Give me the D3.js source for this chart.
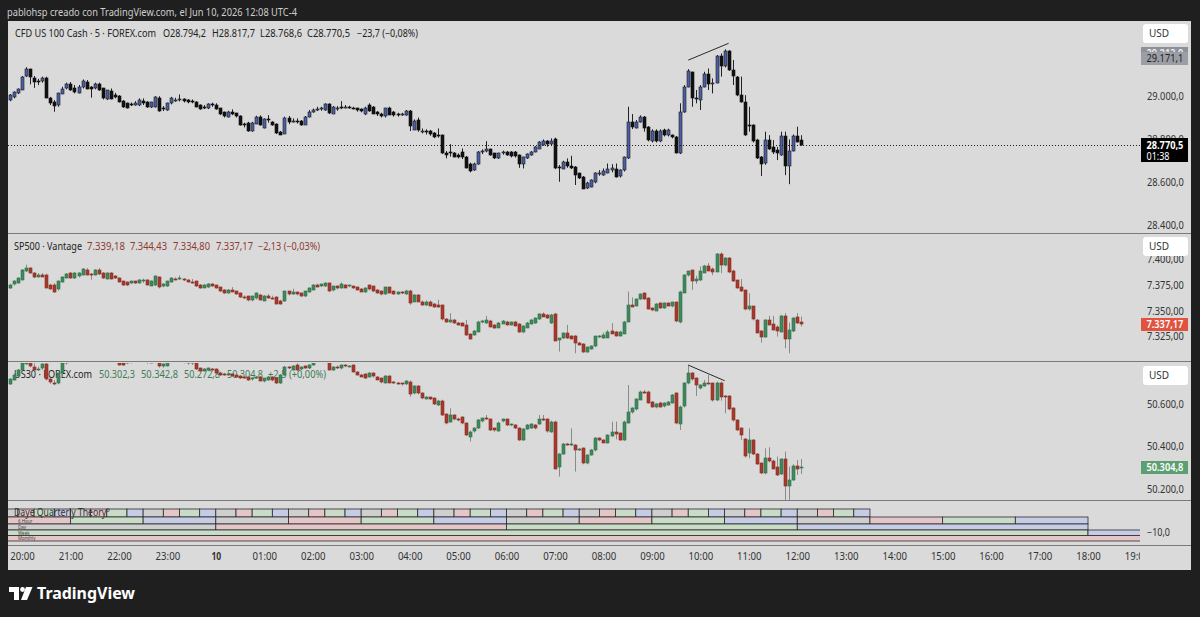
<!DOCTYPE html>
<html><head><meta charset="utf-8">
<script src="https://cdn.jsdelivr.net/npm/d3@7/dist/d3.min.js"></script>
<style>
html,body{margin:0;padding:0;background:#1f1f1f;}
svg{display:block;font-family:"Noto Sans","Open Sans",sans-serif;}
</style></head><body>
<svg id="c" width="1200" height="617"></svg>
<script>
// ---------------- DATA ----------------
const timeLabels = ["20:00","21:00","22:00","23:00","10","01:00","02:00","03:00","04:00","05:00","06:00","07:00","08:00","09:00","10:00","11:00","12:00","13:00","14:00","15:00","16:00","17:00","18:00","19:00"];

// CFD US 100 Cash, 5 min, [open, high, low, close]
const nasOHLC = [
[28981,29009,28976,29004],[28992,29021,28989,29017],[29012,29035,29009,29031],[29031,29093,29028,29090],[29090,29134,29088,29124],
[29124,29127,29054,29085],[29086,29093,29038,29069],[29071,29080,29051,29065],[29066,29090,29062,29082],[29083,29090,28989,28992],
[28992,28996,28958,28969],[28973,28981,28927,28953],[28958,29015,28950,29012],[29012,29043,29009,29034],[29035,29062,29031,29054],
[29055,29065,29024,29028],[29035,29051,29012,29017],[29017,29051,29012,29043],[29040,29077,29035,29069],[29066,29074,29031,29035],
[29043,29046,28992,29035],[29035,29062,29031,29054],[29055,29062,29024,29028],[29035,29038,28984,28989],[28986,29028,28981,29028],
[29024,29035,28984,28989],[29004,29015,28989,28993],[29001,29004,28970,28973],[28976,28981,28945,28950],[28966,28969,28942,28945],
[28961,28970,28953,28958],[28958,28976,28955,28966],[28958,28989,28953,28981],[28978,28989,28958,28969],[28973,28976,28945,28950],
[28947,28973,28944,28970],[28950,28999,28947,28996],[28993,28999,28927,28931],[28942,28953,28930,28938],[28935,28969,28931,28966],
[28966,28996,28961,28989],[28978,28992,28973,28981],[28981,29007,28975,28984],[28984,28989,28970,28976],[28981,28986,28966,28973],
[28978,28984,28966,28972],[28973,28976,28947,28950],[28958,28961,28936,28939],[28950,28958,28939,28945],[28942,28966,28939,28961],
[28961,28969,28950,28956],[28958,28966,28936,28939],[28942,28945,28911,28914],[28924,28927,28900,28904],[28904,28931,28900,28927],
[28927,28938,28911,28919],[28919,28922,28900,28904],[28907,28910,28862,28865],[28869,28876,28854,28865],[28876,28880,28834,28837],
[28837,28880,28834,28876],[28872,28908,28869,28904],[28904,28910,28862,28865],[28852,28896,28849,28893],[28893,28911,28876,28888],
[28880,28883,28862,28865],[28868,28872,28823,28826],[28834,28837,28818,28821],[28826,28904,28823,28899],[28899,28907,28869,28880],
[28883,28896,28876,28885],[28885,28896,28872,28879],[28883,28888,28862,28865],[28868,28907,28865,28904],[28904,28935,28900,28927],
[28927,28942,28922,28935],[28939,28950,28930,28941],[28941,28950,28931,28942],[28935,28966,28931,28961],[28961,28966,28916,28919],
[28919,28953,28916,28950],[28942,28953,28931,28945],[28950,28976,28939,28947],[28950,28958,28942,28951],[28950,28955,28941,28945],
[28945,28950,28938,28942],[28942,28945,28927,28935],[28938,28942,28924,28930],[28914,28950,28911,28942],[28958,28966,28927,28930],
[28950,28953,28916,28919],[28927,28930,28907,28916],[28916,28922,28900,28907],[28904,28945,28900,28942],[28945,28950,28911,28914],
[28927,28930,28904,28911],[28916,28922,28904,28910],[28914,28922,28908,28916],[28911,28935,28908,28930],[28930,28935,28837,28860],
[28845,28891,28842,28885],[28888,28900,28834,28842],[28834,28849,28826,28838],[28838,28845,28821,28832],[28835,28842,28815,28821],
[28826,28832,28804,28807],[28818,28849,28806,28814],[28818,28821,28730,28733],[28736,28744,28710,28725],[28738,28776,28718,28736],
[28736,28739,28714,28718],[28725,28733,28710,28718],[28738,28756,28707,28714],[28718,28721,28663,28668],[28683,28690,28645,28651],
[28655,28690,28652,28683],[28683,28744,28680,28738],[28741,28752,28730,28742],[28741,28790,28738,28752],[28752,28755,28722,28725],
[28733,28736,28707,28710],[28710,28736,28707,28733],[28733,28746,28727,28738],[28738,28744,28722,28725],[28738,28744,28714,28721],
[28738,28744,28714,28718],[28725,28728,28666,28683],[28683,28718,28663,28714],[28710,28733,28707,28730],[28725,28744,28722,28741],
[28741,28767,28738,28764],[28756,28790,28753,28787],[28775,28798,28769,28792],[28790,28795,28764,28776],[28776,28803,28770,28792],
[28798,28806,28660,28663],[28671,28679,28601,28666],[28663,28699,28660,28694],[28694,28710,28666,28674],[28674,28722,28660,28665],
[28671,28674,28586,28632],[28640,28643,28614,28617],[28625,28628,28567,28570],[28570,28601,28567,28594],[28578,28612,28575,28609],
[28597,28645,28594,28640],[28640,28655,28629,28643],[28632,28663,28629,28651],[28643,28686,28640,28662],[28655,28683,28645,28663],
[28662,28686,28621,28625],[28625,28659,28621,28655],[28652,28718,28649,28714],[28710,28950,28707,28877],[28877,28916,28846,28854],
[28854,28888,28849,28880],[28880,28910,28876,28904],[28904,28907,28834,28854],[28854,28860,28789,28792],[28792,28845,28784,28838],
[28838,28845,28784,28790],[28790,28845,28785,28835],[28842,28848,28812,28817],[28817,28848,28812,28842],[28817,28821,28803,28810],
[28810,28814,28733,28736],[28736,28966,28730,28927],[28927,29051,28922,29043],[29043,29125,29040,29117],[29110,29113,28950,28989],
[28992,29028,28966,28987],[28984,29051,28935,29043],[29043,29113,29040,29102],[29102,29128,29028,29055],[29059,29082,29012,29062],
[29062,29190,29059,29186],[29186,29198,29090,29139],[29139,29217,29133,29209],[29209,29213,29117,29120],[29120,29167,29051,29090],
[29090,29093,28999,29004],[29004,29090,28969,28973],[28973,29004,28815,28821],[28865,28950,28834,28862],[28865,28868,28784,28790],
[28795,28801,28707,28713],[28718,28721,28628,28686],[28686,28834,28680,28795],[28795,28818,28749,28755],[28761,28795,28730,28736],
[28749,28764,28702,28733],[28728,28834,28722,28815],[28815,28834,28632,28674],[28674,28798,28590,28746],[28746,28821,28742,28815],
[28815,28857,28784,28787],[28794.2,28817.7,28768.6,28770.5]
];

// SP500 (Vantage), 5 min
const spxOHLC = [
[7372.0,7376.2,7371.0,7375.3],[7375.3,7379.5,7374.6,7378.5],[7376.9,7382.4,7376.2,7381.7],[7380.1,7390.5,7379.5,7389.8],[7388.2,7394.7,7387.5,7391.4],
[7391.4,7392.4,7385.9,7386.6],[7386.6,7387.5,7381.4,7382.4],[7383.4,7386.6,7382.4,7385.0],[7385.0,7386.6,7382.7,7383.4],[7385.0,7386.0,7371.7,7372.7],
[7375.3,7376.2,7370.4,7371.4],[7375.3,7376.9,7367.2,7368.8],[7370.4,7379.1,7369.4,7378.5],[7377.8,7383.4,7377.2,7382.4],[7381.7,7386.6,7381.1,7385.6],
[7386.6,7387.5,7380.8,7381.7],[7381.7,7387.5,7380.8,7386.6],[7383.4,7387.5,7382.4,7386.6],[7385.0,7391.4,7384.3,7390.5],[7389.8,7391.4,7384.3,7385.0],
[7385.6,7386.6,7380.1,7385.0],[7385.0,7390.5,7384.3,7389.8],[7389.8,7391.4,7384.6,7385.6],[7386.6,7387.5,7380.8,7381.7],[7381.1,7387.5,7380.4,7386.6],
[7386.6,7387.5,7380.4,7381.1],[7383.4,7384.3,7380.8,7381.7],[7381.7,7382.4,7377.2,7377.8],[7378.5,7379.1,7374.0,7374.6],[7377.5,7378.5,7373.9,7374.6],
[7376.9,7379.1,7375.9,7378.5],[7378.5,7379.1,7375.9,7376.9],[7376.9,7380.8,7376.2,7380.1],[7378.5,7381.1,7376.9,7379.5],[7380.1,7380.8,7374.6,7375.3],
[7374.6,7379.5,7374.0,7379.1],[7374.6,7384.3,7374.0,7383.4],[7382.4,7383.4,7371.7,7372.7],[7373.6,7376.9,7372.7,7375.9],[7373.6,7379.1,7373.0,7378.5],
[7377.8,7382.4,7377.2,7381.7],[7381.1,7382.4,7379.5,7380.1],[7380.4,7384.3,7379.8,7381.7],[7380.8,7381.7,7378.8,7379.5],[7380.1,7380.8,7377.2,7377.8],
[7377.8,7380.8,7376.2,7376.9],[7378.5,7379.1,7373.0,7373.6],[7375.3,7375.9,7371.4,7372.0],[7372.7,7375.9,7372.0,7375.3],[7372.7,7376.9,7372.0,7375.9],
[7375.9,7376.9,7373.0,7373.6],[7374.6,7375.3,7371.4,7372.0],[7372.7,7373.3,7368.1,7368.8],[7370.4,7371.1,7366.5,7367.2],[7367.2,7371.1,7366.5,7370.4],
[7370.4,7373.0,7368.1,7368.8],[7368.8,7369.4,7365.5,7366.2],[7367.2,7367.8,7362.3,7363.0],[7363.0,7364.9,7361.7,7362.3],[7363.9,7364.6,7359.1,7359.7],
[7359.7,7364.6,7359.1,7363.9],[7361.7,7367.8,7361.0,7366.8],[7365.5,7366.2,7360.0,7360.7],[7360.0,7365.2,7359.4,7364.6],[7364.6,7366.2,7361.7,7362.3],
[7362.3,7364.6,7360.7,7361.3],[7363.0,7363.9,7356.1,7356.5],[7359.7,7360.7,7355.8,7356.5],[7359.1,7369.4,7358.5,7368.8],[7368.8,7369.4,7364.9,7365.5],
[7366.2,7371.4,7365.5,7368.1],[7367.8,7368.4,7364.9,7365.5],[7367.2,7367.8,7363.3,7363.9],[7363.9,7369.4,7363.3,7368.8],[7368.1,7372.7,7367.5,7372.0],
[7370.4,7375.9,7369.8,7375.3],[7375.3,7376.2,7372.7,7373.6],[7373.6,7376.2,7373.0,7375.9],[7373.6,7377.5,7373.0,7376.9],[7376.9,7377.5,7368.1,7368.8],
[7369.4,7374.0,7368.8,7373.6],[7373.6,7374.6,7370.8,7371.4],[7372.0,7377.5,7371.4,7375.9],[7375.3,7375.9,7372.0,7372.7],[7373.3,7375.3,7372.7,7374.6],
[7373.6,7374.3,7371.4,7372.0],[7373.0,7373.6,7369.8,7370.4],[7371.4,7372.0,7368.1,7368.8],[7368.1,7372.7,7367.5,7372.0],[7374.6,7375.3,7369.8,7370.4],
[7373.6,7374.3,7368.1,7368.8],[7370.4,7371.1,7366.5,7367.2],[7368.8,7369.4,7364.9,7365.5],[7366.2,7373.3,7365.5,7372.7],[7372.7,7373.3,7366.8,7367.2],
[7368.8,7369.4,7365.5,7366.2],[7366.2,7368.8,7365.5,7368.1],[7368.1,7369.1,7366.2,7366.8],[7366.2,7370.4,7365.5,7369.4],[7369.4,7370.4,7355.8,7357.5],
[7359.1,7366.2,7358.5,7365.5],[7365.5,7366.2,7358.5,7359.1],[7359.0,7360.0,7354.8,7355.8],[7355.8,7360.0,7354.8,7359.0],[7359.0,7360.0,7354.2,7354.8],
[7356.4,7357.4,7352.9,7353.5],[7355.8,7360.6,7352.9,7353.5],[7355.2,7356.1,7340.6,7341.2],[7342.2,7342.9,7338.3,7339.0],[7339.0,7347.7,7338.3,7341.2],
[7341.2,7341.9,7337.3,7338.0],[7338.6,7339.3,7335.8,7336.4],[7338.0,7338.6,7334.8,7335.4],[7336.4,7341.2,7325.7,7326.7],[7327.3,7328.0,7321.9,7322.5],
[7326.7,7331.5,7326.0,7330.9],[7329.9,7340.3,7329.2,7339.6],[7339.0,7341.2,7337.7,7340.3],[7338.0,7345.1,7337.3,7341.2],[7340.3,7341.2,7334.1,7334.8],
[7336.4,7337.0,7332.5,7333.1],[7334.1,7339.3,7333.4,7338.6],[7338.0,7341.2,7337.3,7340.6],[7339.6,7340.3,7335.8,7336.4],[7336.4,7339.6,7335.8,7339.0],
[7339.6,7340.3,7334.8,7335.4],[7337.3,7338.0,7328.6,7329.9],[7329.9,7336.1,7328.3,7335.4],[7334.1,7339.3,7333.4,7338.6],[7337.3,7341.9,7336.7,7341.2],
[7338.0,7343.5,7337.3,7342.9],[7341.9,7347.7,7341.2,7347.1],[7347.1,7348.4,7344.2,7344.5],[7346.1,7346.8,7342.2,7342.9],[7338.0,7347.1,7337.3,7346.1],
[7347.1,7348.0,7320.6,7321.2],[7321.2,7323.7,7310.5,7323.4],[7323.4,7328.9,7322.7,7328.3],[7328.3,7336.4,7322.7,7323.4],[7325.7,7326.4,7322.5,7323.1],
[7325.7,7326.4,7308.9,7318.6],[7319.2,7319.9,7316.4,7317.0],[7317.9,7318.6,7309.2,7309.8],[7309.8,7315.3,7309.2,7314.7],[7312.8,7316.6,7312.2,7316.0],
[7315.3,7325.7,7314.7,7325.1],[7325.1,7326.4,7323.8,7325.7],[7323.4,7328.9,7322.7,7326.7],[7324.4,7331.5,7323.8,7329.9],[7330.9,7338.0,7327.7,7328.3],
[7329.9,7330.6,7325.1,7325.7],[7325.7,7330.6,7325.1,7329.9],[7328.3,7340.3,7327.7,7339.6],[7339.6,7368.7,7338.9,7355.8],[7355.8,7363.0,7353.5,7354.2],
[7354.8,7362.0,7354.2,7361.3],[7361.3,7366.8,7360.6,7366.2],[7367.1,7367.8,7360.6,7361.3],[7362.3,7363.0,7351.3,7351.9],[7352.6,7353.2,7349.7,7350.3],
[7350.3,7357.4,7349.7,7356.8],[7357.4,7358.1,7351.9,7352.6],[7352.6,7358.1,7351.9,7357.4],[7357.4,7358.1,7354.2,7354.8],[7354.2,7358.7,7353.5,7358.1],
[7358.1,7358.7,7338.9,7339.6],[7339.6,7369.4,7337.9,7368.7],[7367.8,7385.5,7367.1,7384.9],[7383.9,7388.8,7383.2,7388.2],[7389.1,7389.8,7370.4,7378.4],
[7378.4,7384.0,7376.1,7380.7],[7379.4,7393.0,7378.7,7388.2],[7387.2,7394.6,7386.5,7393.7],[7393.7,7396.2,7388.5,7389.1],[7390.4,7392.0,7384.5,7387.2],
[7388.2,7406.0,7387.5,7405.3],[7405.3,7406.6,7386.5,7394.6],[7394.6,7402.0,7393.0,7401.1],[7401.1,7402.0,7386.5,7387.2],[7388.2,7389.8,7378.0,7378.4],
[7379.4,7380.1,7371.4,7372.0],[7373.0,7380.7,7368.1,7368.7],[7369.7,7370.4,7350.3,7351.0],[7351.0,7367.1,7350.3,7354.2],[7354.2,7354.8,7340.6,7341.2],
[7341.2,7341.9,7328.3,7328.9],[7330.9,7331.5,7319.2,7325.1],[7324.4,7341.9,7323.8,7341.2],[7341.2,7345.1,7335.8,7336.4],[7337.3,7345.1,7330.9,7331.5],
[7334.1,7336.1,7325.0,7329.9],[7329.9,7346.1,7329.2,7345.1],[7345.1,7347.7,7313.7,7322.5],[7322.5,7338.6,7308.9,7331.5],[7329.9,7343.8,7329.2,7342.9],
[7343.8,7347.7,7337.3,7338.0],[7339.18,7344.43,7334.80,7337.17]
];

// US30 (FOREX.com), 5 min
const dowOHLC = [
[50693.5,50720,50689,50715.3],[50712.1,50743.3,50709,50735.5],[50730.8,50763.5,50727.7,50758.9],[50758.9,50797.8,50755.8,50790],[50790,50840,50785,50830],
[50828,50838,50771.3,50774.4],[50774.4,50790,50754.2,50758.9],[50760,50775,50755,50766],[50766,50790,50760,50785],[50785,50795,50710,50715],
[50715,50720,50695,50700],[50700,50712,50688,50696],[50696,50745,50692,50743],[50743,50795,50738,50790],[50790,50830,50785,50825],
[50825,50845,50815,50835],[50835,50850,50825,50830],[50830,50855,50825,50850],[50850,50870,50845,50865],[50865,50870,50840,50845],
[50845,50850,50825,50848],[50848,50868,50843,50862],[50862,50866,50835,50840],[50840,50845,50810,50815],[50815,50840,50810,50835],
[50835,50838,50805,50810],[50810,50815,50795,50800],[50798,50805,50780,50782],[50790,50796,50779,50782],[50790,50800,50787,50795],
[50795,50815,50790,50810],[50810,50815,50795,50800],[50800,50820,50796,50815],[50815,50820,50795,50800],[50800,50805,50788,50795],
[50795,50812,50790,50808],[50808,50830,50805,50825],[50825,50830,50770,50776],[50776,50790,50770,50785],[50780,50805,50776,50798],
[50798,50825,50795,50820],[50820,50830,50812,50815],[50815,50835,50810,50818],[50805,50812,50790,50798],[50798,50805,50785,50795],
[50795,50800,50783,50790],[50790,50798,50760,50762],[50766.7,50770,50748,50751.1],[50755,50768,50752,50764],[50759,50770,50755,50767],
[50762,50768,50752,50756],[50762,50766,50740,50743],[50746,50750,50732,50735],[50740,50746,50732,50737],[50737,50746,50732,50742],
[50740,50744,50728,50731],[50735,50738,50722,50725],[50731,50735,50717,50720],[50724,50728,50717,50721],[50725,50728,50709,50712],
[50715,50726,50710,50722],[50722,50730,50717,50727],[50727,50730,50706,50709],[50704,50722,50701,50720],[50712,50731,50709,50727],
[50725,50730,50706,50709],[50720,50724,50693,50697],[50697,50740,50693,50735],[50735,50778,50731,50774],[50774,50778,50763,50767],
[50759,50781,50755,50778],[50782,50790,50755,50759],[50762,50776,50758,50772],[50777,50781,50764,50767],[50767,50786,50763,50782],
[50782,50801,50779,50798],[50798,50810,50794,50806],[50806,50812,50792,50800],[50800,50815,50795,50810],[50810,50815,50756,50759],
[50759,50777,50755,50774],[50774,50780,50764,50770],[50767,50785,50762,50782],[50782,50786,50772,50776],[50776,50782,50772,50779],
[50782,50785,50748,50751],[50751,50754,50733,50736],[50738,50742,50725,50730],[50740,50743,50717,50720],[50728,50749,50724,50746],
[50743,50748,50724,50728],[50728,50731,50712,50715],[50720,50723,50697,50700],[50700,50735,50696,50731],[50731,50734,50697,50700],
[50704,50708,50694,50697],[50699,50704,50690,50694],[50696,50700,50686,50689],[50694,50712,50690,50709],[50704,50710,50634,50650],
[50650,50688,50645,50684],[50684,50688,50645,50650],[50649.8,50654.5,50621.8,50626.5],[50626.5,50637,50622,50634.3],[50631,50634,50618,50622],
[50626.5,50630,50595.3,50600],[50595.3,50620,50590.7,50615.6],[50615.6,50620,50543.9,50548.6],[50553.3,50556,50505,50509.7],[50517.4,50579.8,50512.8,50548.6],
[50548.6,50552,50523.7,50528.4],[50528.4,50536,50518,50522.1],[50537.7,50542,50505,50509.7],[50509.7,50513,50450.5,50455.1],[50447.4,50475.4,50424,50470.7],
[50470.7,50491,50466,50486.3],[50486.3,50529.9,50482,50525.2],[50517.4,50535,50514,50533],[50533,50548.6,50525,50528.4],[50528.4,50532,50473.8,50478.5],
[50486.3,50490,50470,50475.4],[50475.4,50517.4,50471,50512.8],[50517.4,50532,50514,50528.4],[50528.4,50532,50497.2,50501.9],[50501.9,50508,50496,50506.5],
[50501.9,50506,50482,50486.3],[50486.3,50490,50427.1,50431.8],[50431.8,50487,50427,50481.6],[50481.6,50506.5,50478,50501.9],[50486.3,50510,50483,50506.5],
[50501.9,50506,50481,50486.3],[50506.5,50548.6,50503,50528.4],[50528.4,50548.6,50520,50522.1],[50528.4,50532,50466,50470.7],[50470.7,50522,50466,50517.4],
[50517.4,50522,50294.7,50299.4],[50307.2,50370,50260.4,50366.4],[50366.4,50417.8,50362,50413.1],[50413.1,50418,50405,50407],[50407,50486.3,50403,50413.1],
[50408.4,50412,50283.8,50385.1],[50385.1,50393,50380,50390],[50392.8,50396,50318.1,50322.7],[50322.7,50365,50318,50361.7],[50361.7,50390,50358,50385.1],
[50382,50444,50378,50439.6],[50439.6,50444,50426,50430],[50431.8,50436,50418,50419.3],[50419.3,50458,50415,50455.1],[50450.5,50517.4,50446,50470.7],
[50470.7,50517.4,50434.9,50460],[50462.9,50467,50427,50431.8],[50431.8,50522,50427,50517.4],[50512.8,50688.8,50508,50564.2],[50559.5,50585,50555,50579.8],
[50575.1,50626.5,50570,50621.8],[50621.8,50662.3,50618,50657.6],[50657.6,50665,50648,50652.9],[50657.6,50662,50601.6,50606.2],[50611,50614,50582.9,50587.5],
[50584.4,50605,50580,50600],[50606.2,50610,50583,50587.5],[50587.5,50608,50584,50603.1],[50595.3,50614,50592,50610.9],[50606.2,50646.7,50602,50642.1],
[50649.8,50655,50505,50509.7],[50509.7,50592,50478.5,50587.5],[50587.5,50701.2,50583,50696.6],[50696.6,50782.2,50692,50743.3],[50743.3,50750,50709,50715.3],
[50719.9,50724,50637.4,50688.8],[50673.2,50692,50668,50688.8],[50684.1,50712,50680,50699.7],[50696.6,50735.5,50690,50693.5],[50696.6,50700,50610.9,50615.6],
[50618.7,50705,50614,50696.6],[50699.7,50705,50615.6,50634.3],[50637.4,50642,50556.4,50631.2],[50637.4,50642,50570.4,50575.1],[50579.8,50584,50517.4,50522.1],
[50525.2,50529,50473.8,50478.5],[50486.3,50490,50431.8,50455.1],[50434.9,50440,50349.2,50353.9],[50372.6,50486.3,50346.1,50431.8],[50431.8,50436,50361.7,50366.4],
[50366.4,50370,50315,50319.6],[50322.7,50326,50271.4,50276],[50276,50392.8,50271,50346.1],[50346.1,50397.5,50327,50330.5],[50335.2,50339,50294.7,50299.4],
[50307.2,50353.9,50263.6,50268.2],[50272.9,50345,50268,50341.4],[50341.4,50377.3,50151.4,50216.8],[50216.8,50307.2,50151.4,50244.9],[50244.9,50318,50240,50310.3],
[50310.3,50338.3,50268.2,50294.7],[50302.3,50342.8,50272.8,50304.8]
];

// drawn trend lines: [bar index, price]
const nasTrend = [[168, 29167], [178, 29245]];
const dowTrend = [[168, 50782], [177, 50709]];

// axis ticks
const nasTicks = [28400, 28600, 28800, 29000, 29200];
const spxTicks = [7325, 7350, 7375, 7400];
const dowTicks = [50200, 50400, 50600];
const nasMarks = [29213.0, 29171.1];
const indTicks = [-10];

// legends
const nasLegend = ["CFD US 100 Cash · 5 · FOREX.com", "O28.794,2", "H28.817,7", "L28.768,6", "C28.770,5", "−23,7 (−0,08%)"];
const spxLegend = ["SP500 · Vantage", "7.339,18", "7.344,43", "7.334,80", "7.337,17", "−2,13 (−0,03%)"];
const dowLegend = ["US30 · FOREX.com", "50.302,3", "50.342,8", "50.272,8", "50.304,8", "+2,5 (+0,00%)"];

// Daye Quarterly Theory (minutes from 2026-06-09 18:00, quarter 1-4)
const monthRow = [[-3000, 3000, 2]];
const weekRow = [[-1440, 1440, 3], [1440, 2880, 4]];
const dayRow = [[0, 360, 1], [360, 720, 2], [720, 1080, 3], [1080, 1440, 4]];
const sixHourRow = [[0,90,1],[90,180,2],[180,270,3],[270,360,4],[360,450,1],[450,540,2],[540,630,3],[630,720,4],
                    [720,810,1],[810,900,2],[900,990,3],[990,1080,4],[1080,1170,1],[1170,1260,2],[1260,1350,3],[1350,1440,4]];
const microSplits = [0, 25, 45, 70, 90];   // 90-minute cycle split into 4 (bar aligned)
const microEndMin = 1170;

// ---------------- LAYOUT / STYLE ----------------
const svg = d3.select("#c");
const BG = "#dadada", FG = "#333";
const X0 = 8, X1 = 1140, XR = 1191;
const panes = {
  nas: {top: 21, bottom: 233, ref: [[28400, 225], [29000, 96]]},
  spx: {top: 234, bottom: 361, ref: [[7325, 336.6], [7375, 285]]},
  dow: {top: 362, bottom: 500, ref: [[50200, 489.5], [50600, 404]]}
};
const IND = {top: 501, bottom: 545};
const AXIS_Y1 = 570;
const CH = 4.6; // px per character of axis labels

const loc = d3.formatLocale({decimal: ",", thousands: ".", grouping: [3], currency: ["", ""], minus: "−"});
const f1 = loc.format(",.1f"), f2 = loc.format(",.2f");

const t0 = new Date(2026, 5, 9, 19, 45);
const anchor = new Date(2026, 5, 9, 18, 0);
const times = nasOHLC.map((d, i) => d3.timeMinute.offset(t0, i * 5));
const x = d3.scaleTime()
  .domain([new Date(2026, 5, 9, 20, 0), new Date(2026, 5, 10, 18, 0)])
  .range([22, 1088]);
const tm = m => d3.timeMinute.offset(anchor, m);

// backgrounds
svg.append("rect").attr("width", 1200).attr("height", 617).attr("fill", "#1f1f1f");
svg.append("rect").attr("x", X0).attr("y", 21).attr("width", XR - X0).attr("height", AXIS_Y1 - 21).attr("fill", BG);

// header text
svg.append("text").attr("x", 7).attr("y", 15.5).attr("fill", "#cfcfcf").attr("font-size", 10.5)
  .attr("textLength", 290).attr("lengthAdjust", "spacingAndGlyphs")
  .text("pablohsp creado con TradingView.com, el Jun 10, 2026 12:08 UTC-4");

const defs = svg.append("defs");
function clip(id, y0, y1, xa = X0, xb = X1) {
  defs.append("clipPath").attr("id", id).append("rect").attr("x", xa).attr("y", y0).attr("width", xb - xa).attr("height", y1 - y0);
  return "url(#" + id + ")";
}

function yScale(p) {
  return d3.scaleLinear().domain([p.ref[0][0], p.ref[1][0]]).range([p.ref[0][1], p.ref[1][1]]);
}

function legend(items, yb, spans, nameColor, valColor) {
  items.forEach((t, i) => {
    svg.append("text").attr("x", spans[i][0]).attr("y", yb).attr("font-size", 10)
      .attr("fill", i === 0 ? nameColor : valColor)
      .attr("textLength", spans[i][1]).attr("lengthAdjust", "spacingAndGlyphs").text(t);
  });
}

function candles(key, data, style) {
  const p = panes[key], y = yScale(p);
  const g = svg.append("g").attr("clip-path", clip("clip-" + key, p.top + 1, p.bottom));
  const cx = i => Math.round(x(times[i]));
  g.selectAll("line.w").data(data).join("line")
    .attr("x1", (d, i) => cx(i) + 0.5).attr("x2", (d, i) => cx(i) + 0.5)
    .attr("y1", d => y(Math.max(d[1], d[0], d[3]))).attr("y2", d => y(Math.min(d[2], d[0], d[3])))
    .attr("stroke", d => d[3] >= d[0] ? style.upWick : style.downWick).attr("stroke-width", 1);
  g.selectAll("rect.b").data(data).join("rect")
    .attr("x", (d, i) => cx(i) - 1).attr("width", 3)
    .attr("y", d => Math.round(y(Math.max(d[0], d[3]))))
    .attr("height", d => Math.max(1, Math.round(Math.abs(y(d[0]) - y(d[3])))))
    .attr("fill", d => d[3] >= d[0] ? style.up : style.down)
    .attr("stroke", d => d[3] >= d[0] ? style.upBorder : style.downBorder).attr("stroke-width", 0.6);
  return {g, y};
}

function priceAxis(key, ticks, fmt) {
  const p = panes[key], y = yScale(p);
  const outer = svg.append("g").attr("clip-path", clip("axclip-" + key, p.top, p.bottom, X1, XR));
  const ax = outer.append("g").attr("transform", `translate(${X1},0)`)
    .call(d3.axisRight(y).tickValues(ticks).tickSize(0).tickPadding(7).tickFormat(fmt));
  ax.select(".domain").remove();
  ax.selectAll("text").attr("font-size", 10).attr("fill", FG).attr("font-family", "Noto Sans, sans-serif")
    .attr("textLength", function() { return this.textContent.length * CH; }).attr("lengthAdjust", "spacingAndGlyphs");
  return y;
}

function priceTag(y, txt, fill, color, h = 13, weight = 600) {
  svg.append("rect").attr("x", 1141).attr("y", Math.round(y - h / 2)).attr("width", 47).attr("height", h).attr("fill", fill);
  svg.append("text").attr("x", 1146.5).attr("y", y + 3.5).attr("font-size", 10).attr("font-weight", weight).attr("fill", color)
    .attr("textLength", txt.length * CH).attr("lengthAdjust", "spacingAndGlyphs").text(txt);
}

function usdBox(y) {
  svg.append("rect").attr("x", 1143).attr("y", y).attr("width", 45).attr("height", 19).attr("rx", 3).attr("fill", "#fff");
  svg.append("text").attr("x", 1149).attr("y", y + 13).attr("font-size", 10).attr("fill", FG).text("USD");
}

// ---- legends (under candles) ----
legend(nasLegend, 37, [[15,141],[163,43],[212,43],[260,42],[307,43],[357,61]], "#222", "#222");
legend(spxLegend, 249.5, [[14,68],[87,38],[130,37],[173,37],[216,37],[258,62]], "#222", "#8e3a30");
legend(dowLegend, 378, [[14,78],[99,36],[141,37],[184,36],[227,36],[268,58]], "#222", "#3f7d58");

// ---- candles ----
const nas = candles("nas", nasOHLC, {up: "#4a5fa6", down: "#111", upBorder: "#1c1c1c", downBorder: "#111", upWick: "#222", downWick: "#222"});
const spx = candles("spx", spxOHLC, {up: "#3f8a5c", down: "#a6392b", upBorder: "#2f6e48", downBorder: "#8a2d22", upWick: "#8a8a8a", downWick: "#8a8a8a"});
const dow = candles("dow", dowOHLC, {up: "#3f8a5c", down: "#a6392b", upBorder: "#2f6e48", downBorder: "#8a2d22", upWick: "#8a8a8a", downWick: "#8a8a8a"});

// trend lines
const tIdx = i => x(d3.timeMinute.offset(t0, i * 5));
nas.g.append("line").attr("x1", tIdx(nasTrend[0][0])).attr("y1", nas.y(nasTrend[0][1]))
  .attr("x2", tIdx(nasTrend[1][0])).attr("y2", nas.y(nasTrend[1][1])).attr("stroke", "#2a2a2a").attr("stroke-width", 1);
dow.g.append("line").attr("x1", tIdx(dowTrend[0][0])).attr("y1", dow.y(dowTrend[0][1]))
  .attr("x2", tIdx(dowTrend[1][0])).attr("y2", dow.y(dowTrend[1][1])).attr("stroke", "#2a2a2a").attr("stroke-width", 1);

// current price dotted line (pane 1)
const lastNas = nasOHLC[nasOHLC.length - 1];
svg.append("line").attr("x1", X0).attr("x2", X1).attr("y1", Math.round(nas.y(lastNas[3])) + 0.5).attr("y2", Math.round(nas.y(lastNas[3])) + 0.5)
  .attr("stroke", "#222").attr("stroke-dasharray", "1,2");

// ---- price axes ----
const yN = priceAxis("nas", nasTicks, f1);
const yS = priceAxis("spx", spxTicks, f2);
const yD = priceAxis("dow", dowTicks, f1);

usdBox(24);
usdBox(237);
usdBox(366);

// hidden high label behind the 29.171,1 tag
priceTag(yN(nasMarks[0]) + 3, f1(nasMarks[0]), "#8f919a", "#f0f0f0", 13);
priceTag(yN(nasMarks[1]) - 1, f1(nasMarks[1]), "#9c9ea6", "#222", 13, 400);
// current price with countdown
{
  const yc = yN(lastNas[3]);
  const s = f1(lastNas[3]);
  svg.append("rect").attr("x", 1141).attr("y", Math.round(yc - 7)).attr("width", 47).attr("height", 24).attr("fill", "#000");
  svg.append("text").attr("x", 1146.5).attr("y", yc + 3.5).attr("font-size", 10).attr("font-weight", 700).attr("fill", "#fff")
    .attr("textLength", s.length * CH).attr("lengthAdjust", "spacingAndGlyphs").text(s);
  svg.append("text").attr("x", 1146.5).attr("y", yc + 14.5).attr("font-size", 10).attr("fill", "#fff")
    .attr("textLength", 5 * CH).attr("lengthAdjust", "spacingAndGlyphs").text("01:38");
}
priceTag(yS(spxOHLC[spxOHLC.length - 1][3]), f2(spxOHLC[spxOHLC.length - 1][3]), "#e0533f", "#fff", 13);
priceTag(yD(dowOHLC[dowOHLC.length - 1][3]), f1(dowOHLC[dowOHLC.length - 1][3]), "#5d9f73", "#fff", 13);

// ---- pane separators ----
[233, 361, 500].forEach(yy => {
  svg.append("line").attr("x1", X0).attr("x2", XR).attr("y1", yy + 0.5).attr("y2", yy + 0.5).attr("stroke", "#7a7a7a").attr("stroke-width", 1.2);
});

// ---- Daye Quarterly Theory ----
const qFill = ["#cfcfcf", "#e4c6c8", "#c8dcc8", "#c6cbe6"];
const ig = svg.append("g").attr("clip-path", clip("clip-ind", IND.top, IND.bottom));
function qRow(boxes, y0, y1) {
  ig.selectAll(null).data(boxes).join("rect")
    .attr("x", d => x(tm(d[0]))).attr("y", y0)
    .attr("width", d => x(tm(d[1])) - x(tm(d[0]))).attr("height", y1 - y0)
    .attr("fill", d => qFill[d[2] - 1]).attr("stroke", "#2b2b2b").attr("stroke-width", 0.8);
}
const microRow = [];
for (let c = 0; c < microEndMin; c += 90)
  for (let k = 0; k < 4; k++) microRow.push([c + microSplits[k], c + microSplits[k + 1], k + 1]);
qRow(microRow, 509, 517);
qRow(sixHourRow, 517, 524);
qRow(dayRow, 524, 530);
qRow(weekRow, 530, 535.5);
qRow(monthRow, 535.5, 541);
ig.append("text").attr("x", 14).attr("y", 516).attr("font-size", 10).attr("fill", "#333")
  .attr("textLength", 96).attr("lengthAdjust", "spacingAndGlyphs").text("Daye Quarterly Theory°");
[["6 Hour", 523], ["Day", 529.3], ["Week", 534.8], ["Monthly", 540.3]].forEach(([t, yy]) => {
  ig.append("text").attr("x", 18).attr("y", yy).attr("font-size", 4.5).attr("fill", "#444").text(t);
});
{
  const s = f1(indTicks[0]);
  svg.append("text").attr("x", 1147).attr("y", 536).attr("font-size", 10).attr("fill", FG)
    .attr("textLength", s.length * CH).attr("lengthAdjust", "spacingAndGlyphs").text(s);
}

// ---- time axis ----
svg.append("line").attr("x1", X0).attr("x2", XR).attr("y1", IND.bottom + 0.5).attr("y2", IND.bottom + 0.5).attr("stroke", "#7a7a7a");
const tickDates = timeLabels.map((t, i) => d3.timeHour.offset(new Date(2026, 5, 9, 20, 0), i));
const xOuter = svg.append("g").attr("clip-path", clip("clip-xa", IND.bottom, AXIS_Y1, X0, X1));
const xa = xOuter.append("g").attr("transform", `translate(0,${IND.bottom})`)
  .call(d3.axisBottom(x).tickValues(tickDates).tickSize(0).tickPadding(8).tickFormat((d, i) => timeLabels[i]));
xa.select(".domain").remove();
xa.selectAll("text").attr("font-size", 10).attr("fill", FG).attr("font-family", "Noto Sans, sans-serif")
  .attr("font-weight", (d, i) => timeLabels[i] === "10" ? 700 : 400)
  .attr("textLength", function() { return this.textContent.length * 4.9; }).attr("lengthAdjust", "spacingAndGlyphs");

// ---- footer logo ----
const logo = svg.append("g").attr("fill", "#fff");
logo.append("path").attr("d", "M9,587 h10 v13 h-5 v-8 h-5 z");
logo.append("circle").attr("cx", 22.5).attr("cy", 589.5).attr("r", 2.4);
logo.append("path").attr("d", "M26,587 h6.5 l-5.5,13 h-6 z");
svg.append("text").attr("x", 37).attr("y", 599).attr("font-size", 16.5).attr("font-weight", 700).attr("fill", "#fff")
  .attr("textLength", 98).attr("lengthAdjust", "spacingAndGlyphs").text("TradingView");
</script>
</body></html>
